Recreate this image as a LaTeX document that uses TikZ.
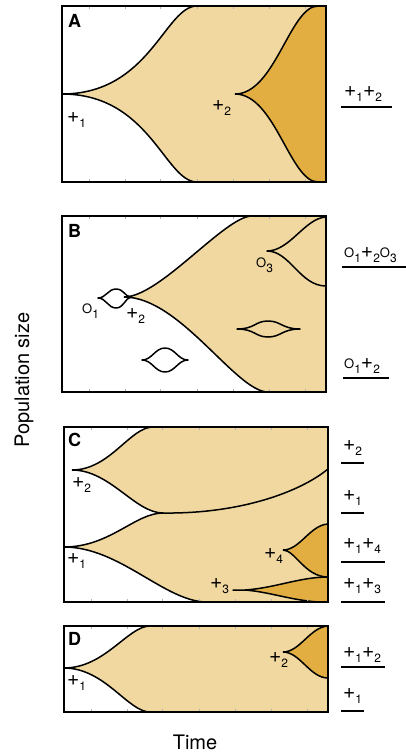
\documentclass[tikz,border=0pt]{standalone}
\usepackage{fontspec}
\setmainfont{TeX Gyre Heros}
\definecolor{light}{HTML}{F0D8A0}
\definecolor{dark}{HTML}{E2AE42}
\newcommand\Pl[1]{{\fontsize{21}{21}\selectfont+}\raisebox{-5pt}{\fontsize{12}{12}\selectfont#1}}
\newcommand\Oo[1]{{\fontsize{13}{13}\selectfont O}\raisebox{-5pt}{\fontsize{12}{12}\selectfont#1}}
\tikzset{
  frame/.style={line width=1.9pt},
  curve/.style={line width=1.5pt, line join=round},
  lbl/.style={inner sep=0pt, anchor=base west},
  plet/.style={inner sep=0pt, anchor=base west, font=\fontsize{18}{18}\selectfont\bfseries},
  rline/.style={line width=1.3pt},
  tick/.style={gray!60, line width=0.5pt},
}
\begin{document}
\begin{tikzpicture}[x=1pt,y=-1pt]
\useasboundingbox (0,0) rectangle (406,753);

% ---------- Panel A ----------
\draw[curve,fill=light] (62,94) .. controls (150,94) and (165,6) .. (197,6) -- (326,6) -- (326,182) -- (197,182) .. controls (165,182) and (150,94) .. (62,94);
\draw[curve,fill=dark] (235,94) .. controls (275,94) and (290,6) .. (318,6) -- (326,6) -- (326,182) -- (318,182) .. controls (290,182) and (275,94) .. (235,94);
\foreach \x in {89,125,160,197,233,269,305}{\draw[tick] (\x,6) -- (\x,9); \draw[tick] (\x,182) -- (\x,179);}
\draw[frame] (62,6) rectangle (326,182);
\node[plet] (lA) at (68,27) {A};
\node[lbl] (a1) at (67,122) {\Pl{1}};
\node[lbl] (a2) at (212,110) {\Pl{2}};

% ---------- Panel B ----------
\draw[curve,fill=light] (124,297) .. controls (160,297) and (225,216) .. (252,216) -- (326,216) -- (326,392) -- (268,392) .. controls (236,392) and (180,297) .. (124,297);
\draw[curve] (326,217) .. controls (305,218) and (290,251) .. (267,251) .. controls (290,251) and (300,286) .. (326,286);
\draw[curve] (237,329) .. controls (255,329) and (255,321) .. (268,321) .. controls (281,321) and (282,329) .. (300,329) .. controls (282,329) and (281,337) .. (268,337) .. controls (255,337) and (255,329) .. (237,329) -- cycle;
\draw[curve,fill=white] (142,360) .. controls (152,360) and (155,348) .. (165,348) .. controls (175,348) and (178,360) .. (188,360) .. controls (178,360) and (175,372) .. (165,372) .. controls (155,372) and (152,360) .. (142,360) -- cycle;
\draw[curve] (98,298) .. controls (106,298) and (108,289) .. (116,289) .. controls (124,289) and (125,297) .. (131,297) .. controls (125,298) and (124,308) .. (116,308) .. controls (108,308) and (106,298) .. (98,298) -- cycle;
\foreach \x in {89,125,160,197,233,269,305}{\draw[tick] (\x,216) -- (\x,219); \draw[tick] (\x,392) -- (\x,389);}
\draw[frame] (62,216) rectangle (326,392);
\node[plet] (lB) at (68,237) {B};
\node[lbl] (b1) at (82,313) {\Oo{1}};
\node[lbl] (b2) at (126,318) {\Pl{2}};
\node[lbl] (b3) at (256,267) {\Oo{3}};

% ---------- Panel C ----------
\draw[curve,fill=light] (72,470) .. controls (110,470) and (130,427) .. (153,427) -- (328,427) -- (328,602) -- (207,602) .. controls (165,602) and (120,547) .. (64,547) .. controls (110,547) and (135,513) .. (163,513) .. controls (135,513) and (110,470) .. (72,470);
\draw[curve] (163,513) .. controls (240,514) and (300,492) .. (328,469);
\draw[curve,fill=dark] (283,550) .. controls (300,550) and (310,525) .. (328,524) -- (328,577) .. controls (305,577) and (295,550) .. (283,550);
\draw[curve,fill=dark] (233,590) -- (245,590) .. controls (275,588) and (300,577) .. (328,577) -- (328,602) -- (318,602) .. controls (290,600) and (270,592) .. (245,590) -- cycle;
\foreach \x in {91,127,162,199,235,271,307}{\draw[tick] (\x,427) -- (\x,430); \draw[tick] (\x,602) -- (\x,599);}
\draw[frame] (64,427) rectangle (328,602);
\node[plet] (lC) at (68,446) {C};
\node[lbl] (c2) at (72,487) {\Pl{2}};
\node[lbl] (c1) at (67,563) {\Pl{1}};
\node[lbl] (c4) at (264,558) {\Pl{4}};
\node[lbl] (c3) at (210,588) {\Pl{3}};

% ---------- Panel D ----------
\draw[curve,fill=light] (64,668) .. controls (105,668) and (128,626) .. (150,626) -- (328,626) -- (328,712) -- (150,712) .. controls (128,712) and (105,668) .. (64,668);
\draw[curve,fill=dark] (283,652) .. controls (300,652) and (310,627) .. (328,626) -- (328,678) .. controls (310,678) and (300,652) .. (283,652);
\foreach \x in {91,127,162,199,235,271,307}{\draw[tick] (\x,626) -- (\x,629); \draw[tick] (\x,712) -- (\x,709);}
\draw[frame] (64,626) rectangle (328,712);
\node[plet] (lD) at (68,645) {D};
\node[lbl] (d1) at (67,685) {\Pl{1}};
\node[lbl] (d2) at (269,662) {\Pl{2}};

% ---------- Right-hand genotype labels ----------
\node[lbl] (r1) at (344,96) {\Pl{1}\Pl{2}};
\draw[rline] (341,107) -- (392,107);
\node[lbl] (r2) at (344,257) {\Oo{1}\Pl{2}\Oo{3}};
\draw[rline] (342,267) -- (406,267);
\node[lbl] (r3) at (344,368) {\Oo{1}\Pl{2}};
\draw[rline] (343,378) -- (389,378);
\node[lbl] (r4) at (343,450) {\Pl{2}};
\draw[rline] (341,463) -- (364,463);
\node[lbl] (r5) at (343,500) {\Pl{1}};
\draw[rline] (341,513) -- (364,513);
\node[lbl] (r6) at (343,548) {\Pl{1}\Pl{4}};
\draw[rline] (341,562) -- (385,562);
\node[lbl] (r7) at (343,588) {\Pl{1}\Pl{3}};
\draw[rline] (341,602) -- (385,602);
\node[lbl] (r8) at (343,657) {\Pl{1}\Pl{2}};
\draw[rline] (341,667) -- (385,667);
\node[lbl] (r9) at (343,698) {\Pl{1}};
\draw[rline] (341,711) -- (364,711);

% ---------- Axis labels ----------
\node[inner sep=0pt, rotate=90, font=\fontsize{20}{20}\selectfont] (ylab) at (24,380) {Population size};
\node[inner sep=0pt, font=\fontsize{20}{20}\selectfont] (xlab) at (195,742) {Time};
\end{tikzpicture}
\end{document}
